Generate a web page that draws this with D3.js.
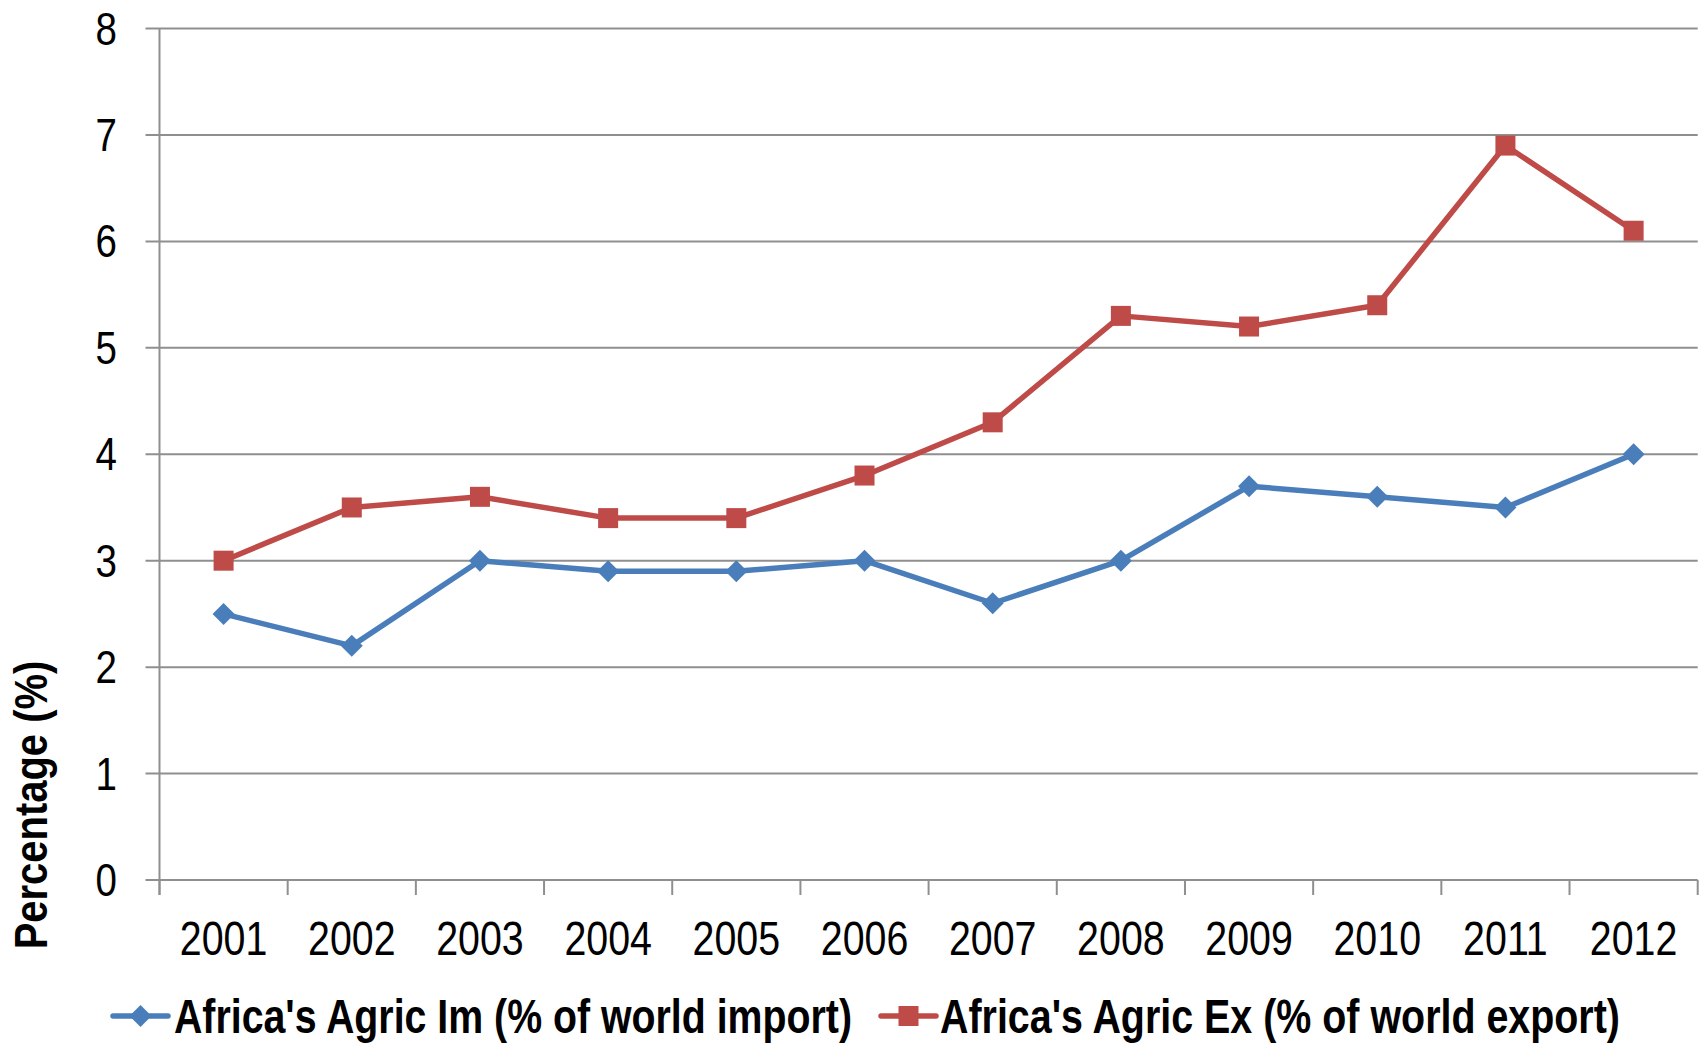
<!DOCTYPE html>
<html>
<head>
<meta charset="utf-8">
<script src="https://cdn.jsdelivr.net/npm/d3@7"></script>
<style>
  html, body { margin: 0; padding: 0; background: #fff; }
  svg { display: block; }
  text { font-family: "Liberation Sans Narrow", "Arial Narrow", "Liberation Sans", Arial, sans-serif; }
</style>
</head>
<body>
<svg id="chart" width="1702" height="1043"></svg>
<script>
const years = ["2001","2002","2003","2004","2005","2006","2007","2008","2009","2010","2011","2012"];
const importShare = [2.5, 2.2, 3.0, 2.9, 2.9, 3.0, 2.6, 3.0, 3.7, 3.6, 3.5, 4.0];
const exportShare = [3.0, 3.5, 3.6, 3.4, 3.4, 3.8, 4.3, 5.3, 5.2, 5.4, 6.9, 6.1];
const yTicks = [0, 1, 2, 3, 4, 5, 6, 7, 8];
const seriesNames = ["Africa's Agric Im (% of world import)", "Africa's Agric Ex (% of world export)"];
const yTitle = "Percentage (%)";

(function () {
const svg = d3.select("#chart");
const pLeft = 159.5, pRight = 1697.7, pTop = 28.5, pBottom = 880;
const grid = "#8f8f8f";
const blue = "#4A7EBB", red = "#BE4B48";
const narrow = 0.82; // emulate Arial Narrow by horizontal compression

const x = d3.scaleBand().domain(years).range([pLeft, pRight]);
const y = d3.scaleLinear().domain([0, 8]).range([pBottom, pTop]);

// place text at (ax, ay) with horizontal compression k and optional rotation
function place(sel, ax, ay, k, rot) {
  sel.attr("x", 0).attr("y", 0)
     .attr("transform", `translate(${ax},${ay})${rot ? ` rotate(${rot})` : ""} scale(${k},1)`);
  return sel;
}

// gridlines
svg.append("g").selectAll("line").data(yTicks).join("line")
  .attr("x1", pLeft - 14).attr("x2", pRight)
  .attr("y1", d => y(d)).attr("y2", d => y(d))
  .attr("stroke", grid).attr("stroke-width", 2);

// y axis line
svg.append("line").attr("x1", pLeft).attr("x2", pLeft).attr("y1", y(8)).attr("y2", y(0) + 15)
  .attr("stroke", grid).attr("stroke-width", 2);

// x tick marks at band boundaries
const bounds = years.map(d => x(d)).concat([pRight]);
svg.append("g").selectAll("line").data(bounds).join("line")
  .attr("x1", d => d).attr("x2", d => d)
  .attr("y1", y(0)).attr("y2", y(0) + 15)
  .attr("stroke", grid).attr("stroke-width", 2);

// y tick labels
svg.append("g").selectAll("text").data(yTicks).join("text")
  .attr("text-anchor", "end")
  .attr("font-size", 47).attr("fill", "#000")
  .text(d => d)
  .each(function (d) { place(d3.select(this), 117, y(d) + 16, narrow); });

// x tick labels
svg.append("g").selectAll("text").data(years).join("text")
  .attr("text-anchor", "middle")
  .attr("font-size", 48).attr("fill", "#000")
  .text(d => d)
  .each(function (d) { place(d3.select(this), x(d) + x.bandwidth() / 2, 955, narrow); });

// y title
place(svg.append("text")
  .attr("text-anchor", "middle")
  .attr("font-size", 47).attr("font-weight", "bold").attr("fill", "#000")
  .text(yTitle), 47, 805, 0.85, -90);

const cx = (d, i) => x(years[i]) + x.bandwidth() / 2;
const line = d3.line().x((d, i) => cx(d, i)).y(d => y(d));

function diamond(g, px, py, color, s) {
  g.append("path")
    .attr("d", `M${px},${py - s}L${px + s},${py}L${px},${py + s}L${px - s},${py}Z`)
    .attr("fill", color);
}

// import series
svg.append("path").datum(importShare).attr("d", line)
  .attr("fill", "none").attr("stroke", blue).attr("stroke-width", 5.5).attr("stroke-linejoin", "round");
const gImp = svg.append("g");
importShare.forEach((v, i) => diamond(gImp, cx(v, i), y(v), blue, 11));

// export series
svg.append("path").datum(exportShare).attr("d", line)
  .attr("fill", "none").attr("stroke", red).attr("stroke-width", 5.5).attr("stroke-linejoin", "round");
svg.append("g").selectAll("rect").data(exportShare).join("rect")
  .attr("x", (d, i) => cx(d, i) - 10).attr("y", d => y(d) - 10)
  .attr("width", 20).attr("height", 20)
  .attr("fill", red);

// legend
const legY = 1016;
const leg = svg.append("g");
const legItems = [
  { name: seriesNames[0], color: blue, lx: 113, tx: 174, w: 678, marker: "diamond" },
  { name: seriesNames[1], color: red, lx: 881, tx: 940, w: 680, marker: "square" }
];
legItems.forEach(it => {
  leg.append("line").attr("x1", it.lx).attr("x2", it.lx + 55)
    .attr("y1", legY).attr("y2", legY)
    .attr("stroke", it.color).attr("stroke-width", 5.5).attr("stroke-linecap", "round");
  const mx = it.lx + 27.5;
  if (it.marker === "diamond") diamond(leg, mx, legY, it.color, 11);
  else leg.append("rect").attr("x", mx - 10).attr("y", legY - 10).attr("width", 20).attr("height", 20).attr("fill", it.color);
  const t = leg.append("text")
    .attr("font-size", 48).attr("font-weight", "bold").attr("fill", "#000")
    .text(it.name);
  place(t, it.tx, 1033, 1);
  const len = t.node().getComputedTextLength();
  place(t, it.tx, 1033, len > 0 ? it.w / len : 0.83);
});
})();
</script>
</body>
</html>
